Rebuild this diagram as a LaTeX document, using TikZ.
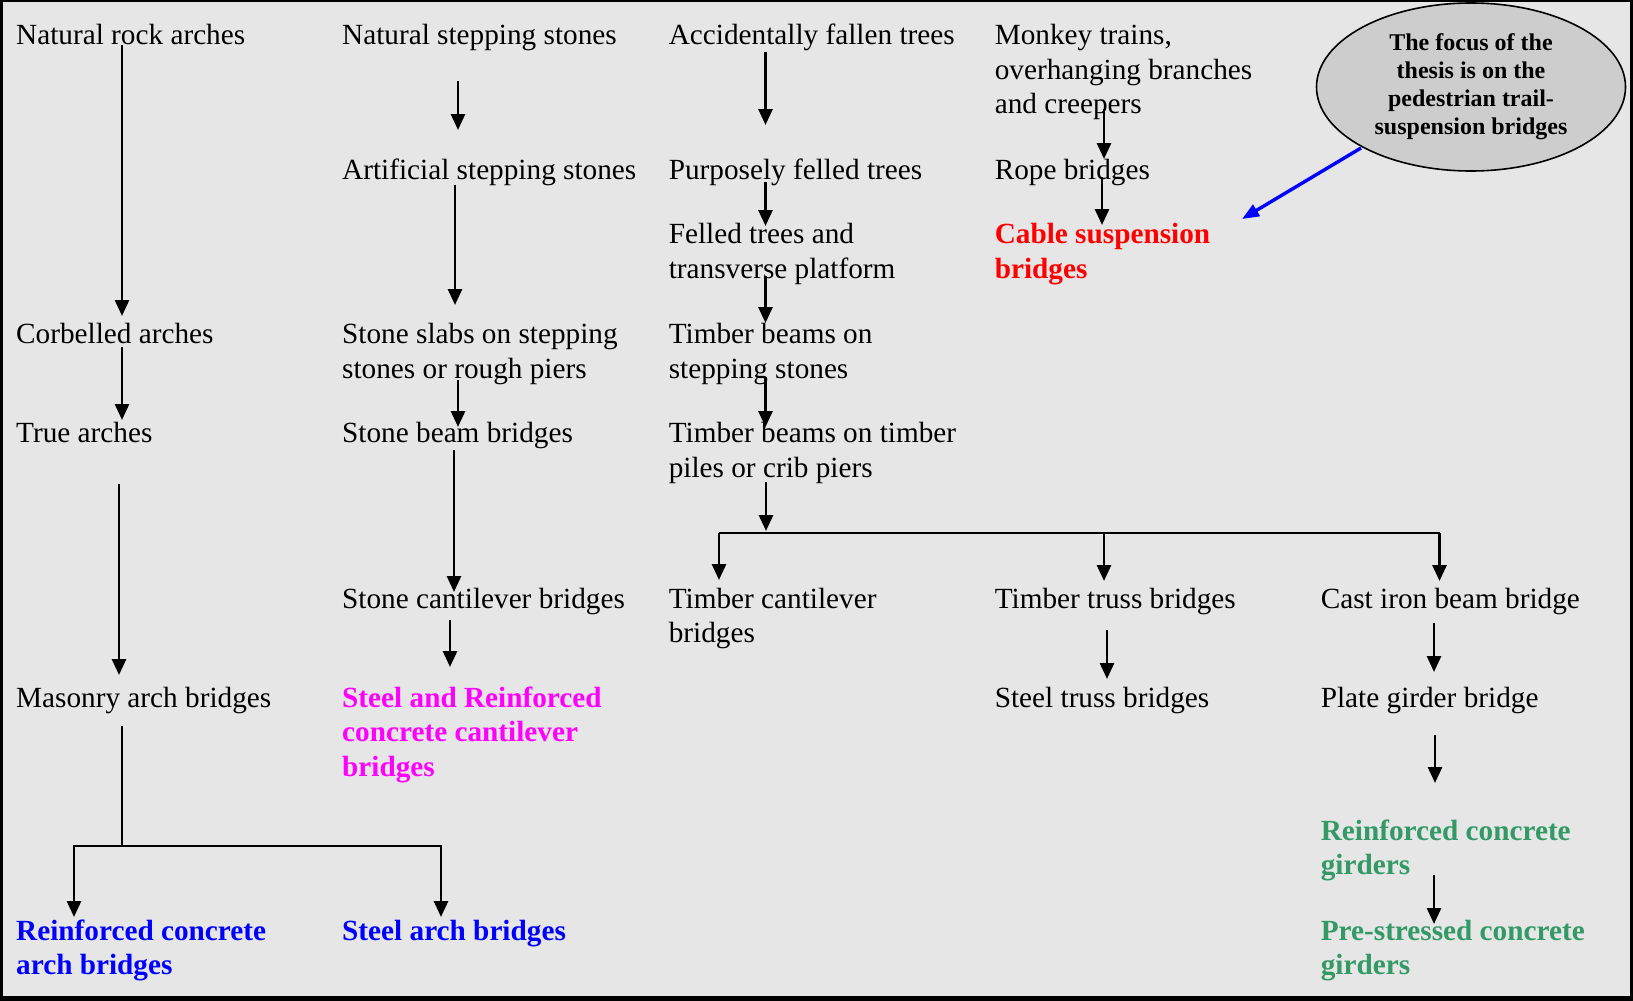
\documentclass[tikz,border=0pt]{standalone}
\usepackage{fontspec}
\setmainfont{Liberation Serif}
\usetikzlibrary{arrows.meta,shapes.geometric}
\definecolor{bgc}{HTML}{E6E6E6}
\definecolor{ellfill}{HTML}{CDCDCD}
\definecolor{cred}{HTML}{FF0000}
\definecolor{cmag}{HTML}{FF00FF}
\definecolor{cblue}{HTML}{0000FF}
\definecolor{cgreen}{HTML}{339966}
\newcommand{\mylines}[1]{\begin{tabular}[t]{@{}l@{}}#1\end{tabular}}
\newcommand{\ellines}[1]{\begin{tabular}[t]{@{}c@{}}#1\end{tabular}}
\begin{document}
\begin{tikzpicture}[x=1pt,y=-1pt,
  lbl/.style={anchor=base west, inner sep=0pt, font=\fontsize{29.25}{34.4}\selectfont},
  blbl/.style={lbl, font=\fontsize{29.25}{34.4}\selectfont\bfseries},
  arr/.style={line width=2.8pt, -{Triangle[length=16pt,width=14pt]}},
  ln/.style={line width=2.8pt}]
\useasboundingbox (0,0) rectangle (1633,1001);
\fill[bgc] (0,0) rectangle (1633,1001);
\fill[black] (0,0) rectangle (3,1001);
\fill[black] (0,0) rectangle (1633,1.5);
\fill[black] (1630,0) rectangle (1633,1001);
\fill[black] (0,996) rectangle (1633,1001);

% column 1
\node[lbl] (nra) at (16,44.8) {\mylines{Natural rock arches}};
\node[lbl] (cor) at (16,343.7) {\mylines{Corbelled arches}};
\node[lbl] (tra) at (16,442.6) {\mylines{True arches}};
\node[lbl] (mab) at (16,707.2) {\mylines{Masonry arch bridges}};
\node[blbl, text=cblue] (rcab) at (16,940.5) {\mylines{Reinforced concrete\\arch bridges}};
% column 2
\node[lbl] (nss) at (342,44.8) {\mylines{Natural stepping stones}};
\node[lbl] (ass) at (342,179) {\mylines{Artificial stepping stones}};
\node[lbl] (ssl) at (342,343.7) {\mylines{Stone slabs on stepping\\stones or rough piers}};
\node[lbl] (sbb) at (342,442.6) {\mylines{Stone beam bridges}};
\node[lbl] (scb) at (342,608.2) {\mylines{Stone cantilever bridges}};
\node[blbl, text=cmag] (srcc) at (342,707.2) {\mylines{Steel and Reinforced\\concrete cantilever\\bridges}};
\node[blbl, text=cblue] (sab) at (342,940.5) {\mylines{Steel arch bridges}};
% column 3
\node[lbl] (aft) at (668.6,44.8) {\mylines{Accidentally fallen trees}};
\node[lbl] (pft) at (668.6,179) {\mylines{Purposely felled trees}};
\node[lbl] (ftp) at (668.6,243.7) {\mylines{Felled trees and\\transverse platform}};
\node[lbl] (tbs) at (668.6,343.7) {\mylines{Timber beams on\\stepping stones}};
\node[lbl] (tbt) at (668.6,442.6) {\mylines{Timber beams on timber\\piles or crib piers}};
\node[lbl] (tcb) at (668.6,608.2) {\mylines{Timber cantilever\\bridges}};
% column 4
\node[lbl] (mtr) at (994.6,44.8) {\mylines{Monkey trains,\\overhanging branches\\and creepers}};
\node[lbl] (rpb) at (994.6,179) {\mylines{Rope bridges}};
\node[blbl, text=cred] (csb) at (994.6,243.7) {\mylines{Cable suspension\\bridges}};
\node[lbl] (ttb) at (994.6,608.2) {\mylines{Timber truss bridges}};
\node[lbl] (stb) at (994.6,707.2) {\mylines{Steel truss bridges}};
% column 5
\node[lbl] (cib) at (1320.6,608.2) {\mylines{Cast iron beam bridge}};
\node[lbl] (pgb) at (1320.6,707.2) {\mylines{Plate girder bridge}};
\node[blbl, text=cgreen] (rcg) at (1320.6,840.5) {\mylines{Reinforced concrete\\girders}};
\node[blbl, text=cgreen] (psg) at (1320.6,940.5) {\mylines{Pre-stressed concrete\\girders}};

% focus ellipse
\node[ellipse, draw, line width=1.6pt, fill=ellfill, inner sep=0pt,
      minimum width=309pt, minimum height=168pt,
      font=\fontsize{24}{27.8}\selectfont\bfseries] (foc) at (1471,87)
  {\ellines{The focus of the\\thesis is on the\\pedestrian trail-\\suspension bridges}};

% connector end points
\coordinate (a1s) at (122,45);   \coordinate (a1e) at (122,316);
\coordinate (a2s) at (122,347);  \coordinate (a2e) at (122,420);
\coordinate (a3s) at (119,484);  \coordinate (a3e) at (119,675);
\coordinate (a4s) at (122,726);  \coordinate (a4m) at (122,846);
\coordinate (a4l) at (74,846);   \coordinate (a4r) at (441,846);
\coordinate (a5s) at (458,81);   \coordinate (a5e) at (458,130);
\coordinate (a6s) at (455,185);  \coordinate (a6e) at (455,305);
\coordinate (a7s) at (458,380);  \coordinate (a7e) at (458,427);
\coordinate (a8s) at (454,450);  \coordinate (a8e) at (454,592);
\coordinate (a9s) at (450,620);  \coordinate (a9e) at (450,667);
\coordinate (b1s) at (765.5,52); \coordinate (b1e) at (765.5,125);
\coordinate (b2s) at (765.5,182);\coordinate (b2e) at (765.5,226);
\coordinate (b3s) at (765.5,276);\coordinate (b3e) at (765.5,323);
\coordinate (b4s) at (765.5,377);\coordinate (b4e) at (765.5,427);
\coordinate (b5s) at (766,482);  \coordinate (b5e) at (766,531);
\coordinate (hl) at (719,533);   \coordinate (hm) at (1104,533); \coordinate (hr) at (1439.5,533);
\coordinate (c1s) at (1104,109); \coordinate (c1e) at (1104,159);
\coordinate (c2s) at (1102,177); \coordinate (c2e) at (1102,225);
\coordinate (c3s) at (1107,630); \coordinate (c3e) at (1107,679);
\coordinate (d1s) at (1434,623); \coordinate (d1e) at (1434,672);
\coordinate (d2s) at (1435,735); \coordinate (d2e) at (1435,783);
\coordinate (d3s) at (1434,875); \coordinate (d3e) at (1434,924);
\coordinate (fbs) at (1361,148); \coordinate (fbe) at (1242,219);

% column 1 connectors
\draw[arr] (a1s) -- (a1e);
\draw[arr] (a2s) -- (a2e);
\draw[arr] (a3s) -- (a3e);
\draw[ln] (a4s) -- (a4m);
\draw[arr] (a4m) -- (a4l) -- (74,917);
\draw[arr] (a4m) -- (a4r) -- (441,917);
% column 2
\draw[arr] (a5s) -- (a5e);
\draw[arr] (a6s) -- (a6e);
\draw[arr] (a7s) -- (a7e);
\draw[arr] (a8s) -- (a8e);
\draw[arr] (a9s) -- (a9e);
% column 3
\draw[arr] (b1s) -- (b1e);
\draw[arr] (b2s) -- (b2e);
\draw[arr] (b3s) -- (b3e);
\draw[arr] (b4s) -- (b4e);
\draw[arr] (b5s) -- (b5e);
\draw[ln] (hl) -- (hr);
\draw[arr] (hl) -- (719,580);
\draw[arr] (hm) -- (1104,581);
\draw[arr] (hr) -- (1439.5,581);
% column 4
\draw[arr] (c1s) -- (c1e);
\draw[arr] (c2s) -- (c2e);
\draw[arr] (c3s) -- (c3e);
% column 5
\draw[arr] (d1s) -- (d1e);
\draw[arr] (d2s) -- (d2e);
\draw[arr] (d3s) -- (d3e);
% focus pointer
\draw[line width=3.4pt, cblue, -{Triangle[length=17pt,width=13pt]}] (fbs) -- (fbe);
\end{tikzpicture}
\end{document}
